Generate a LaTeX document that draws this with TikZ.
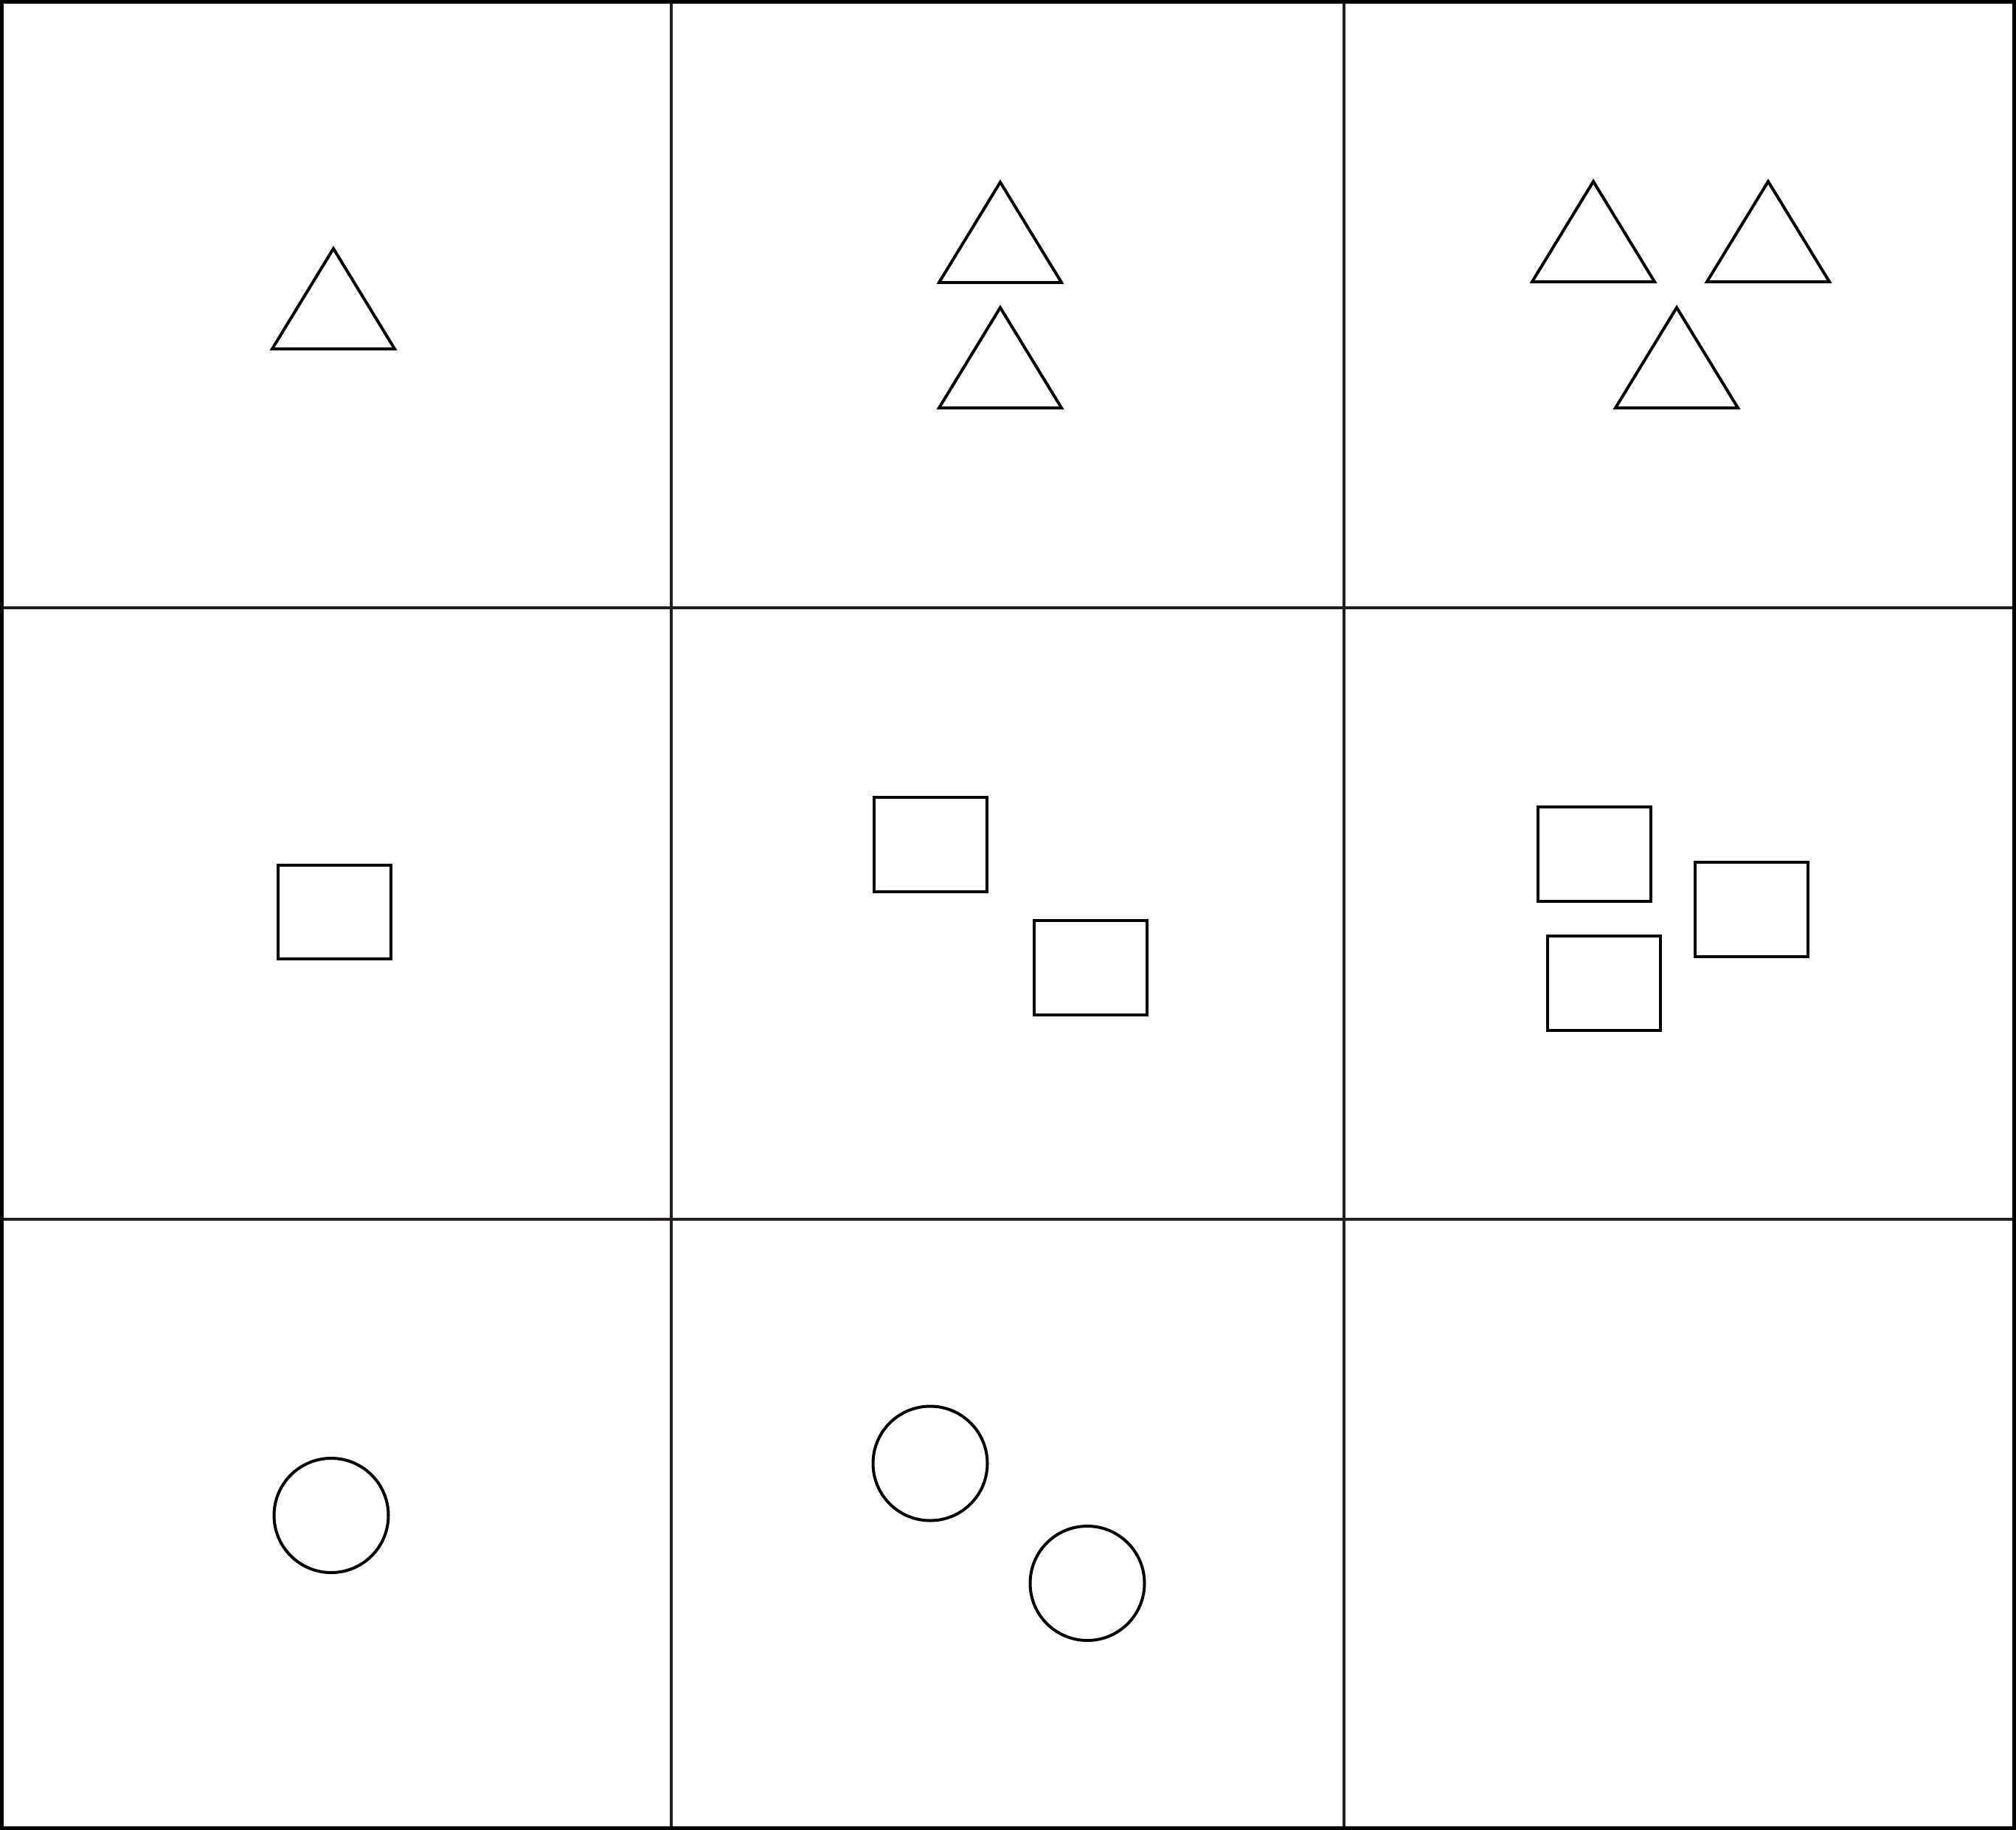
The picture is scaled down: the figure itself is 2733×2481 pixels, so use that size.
\documentclass[tikz,border=0pt]{standalone}
\definecolor{gridgray}{RGB}{35,31,32}
\begin{document}
\begin{tikzpicture}[x=1pt,y=-1pt,
  gridline/.style={draw=gridgray,line width=4pt},
  outline/.style={draw=black,line width=5pt},
  shapeline/.style={draw=black,line width=4pt,line join=miter},
  tri/.pic={\draw[shapeline] (0,0) -- (83,136) -- (-83,136) -- cycle;},
  box/.pic={\draw[shapeline] (0,0) rectangle (153,127.5);}
]
\useasboundingbox (0,0) rectangle (2733,2481);
% grid
\draw[gridline] (909.5,0) -- (909.5,2481);
\draw[gridline] (1822,0) -- (1822,2481);
\draw[gridline] (0,824) -- (2733,824);
\draw[gridline] (0,1652.5) -- (2733,1652.5);
\draw[outline] (2.5,2.5) rectangle (2730.5,2478.5);
% triangles
\pic at (452,337) {tri};
\pic at (1356,247) {tri};
\pic at (1356,417) {tri};
\pic at (2160,246) {tri};
\pic at (2397,246) {tri};
\pic at (2273,417) {tri};
% rectangles
\pic at (377,1172.5) {box};
\pic at (1185,1081) {box};
\pic at (1402,1248) {box};
\pic at (2085,1094) {box};
\pic at (2298,1169) {box};
\pic at (2098,1269) {box};
% circles
\draw[shapeline] (449,2054.5) circle (77.5);
\draw[shapeline] (1261,1984) circle (77.5);
\draw[shapeline] (1474,2146.5) circle (77.5);
\end{tikzpicture}
\end{document}
